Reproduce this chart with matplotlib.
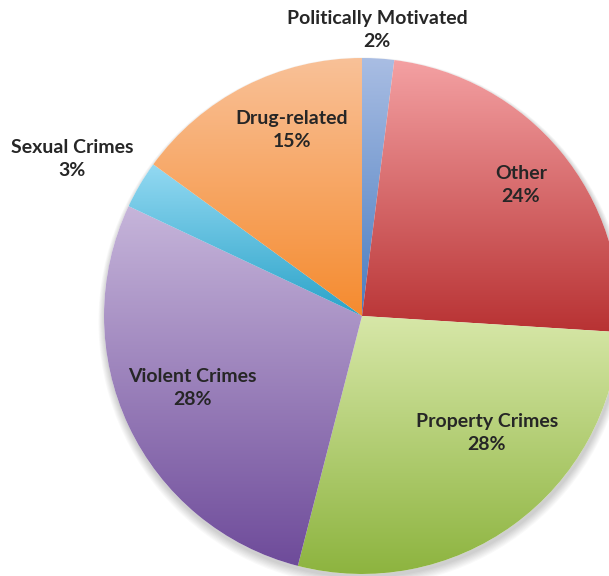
import numpy as np
import matplotlib
matplotlib.use('Agg')
import matplotlib.pyplot as plt
from matplotlib.colors import LinearSegmentedColormap
from matplotlib.patches import Circle

# ==== Data ====
categories = ['Politically Motivated', 'Other', 'Property Crimes',
              'Violent Crimes', 'Sexual Crimes', 'Drug-related']
shares = [2, 24, 28, 28, 3, 15]

# top (light) -> bottom (dark) colour of each slice gradient
top_colors = ['#a9bde3', '#f4a1a3', '#d7e7a8', '#c6b5da', '#93d9f2', '#f9c198']
bot_colors = ['#4a7dc0', '#b83233', '#8db43f', '#6e4b9a', '#2ba3c9', '#f58b2f']

# label centres in pixels (x, y from top)
label_pos = [(377, 30), (521, 185), (487, 433), (192, 388), (72, 159), (292, 130)]

W, H = 609, 576
cx, cy, R = 362, H - 316, 258

plt.rcParams.update({'font.family': ['Lato', 'DejaVu Sans']})

fig = plt.figure(figsize=(W / 100, H / 100), dpi=100)
ax = fig.add_axes([0, 0, 1, 1])
ax.set_xlim(0, W)
ax.set_ylim(0, H)
ax.set_aspect('equal')
ax.axis('off')

# soft shadow under the pie
for k in range(8):
    ax.add_patch(Circle((cx + 1, cy - 3 - k * 0.4), R + 1 + k * 0.8,
                        color='#000000', alpha=0.025, lw=0, zorder=0))
ax.add_patch(Circle((cx, cy), R, color='white', lw=0, zorder=0.5))

wedges, _ = ax.pie(shares, startangle=90, counterclock=False,
                   center=(cx, cy), radius=R, frame=True,
                   wedgeprops=dict(linewidth=0, alpha=0))

for w, c0, c1 in zip(wedges, top_colors, bot_colors):
    ext = w.get_path().get_extents()
    cmap = LinearSegmentedColormap.from_list('g', [c1, c0])
    grad = np.linspace(0, 1, 256).reshape(-1, 1)
    im = ax.imshow(grad, cmap=cmap, origin='lower', aspect='auto',
                   extent=[ext.x0, ext.x1, ext.y0, ext.y1],
                   interpolation='bilinear', zorder=1)
    im.set_clip_path(w)

ax.set_xlim(0, W)
ax.set_ylim(0, H)

for name, s, (lx, ly) in zip(categories, shares, label_pos):
    ax.text(lx, H - ly, f'{name}\n{s}%', ha='center', va='center',
            fontsize=14, fontweight='bold', color='#262626',
            linespacing=1.45, zorder=3)

fig.savefig('out.png', dpi=100)
